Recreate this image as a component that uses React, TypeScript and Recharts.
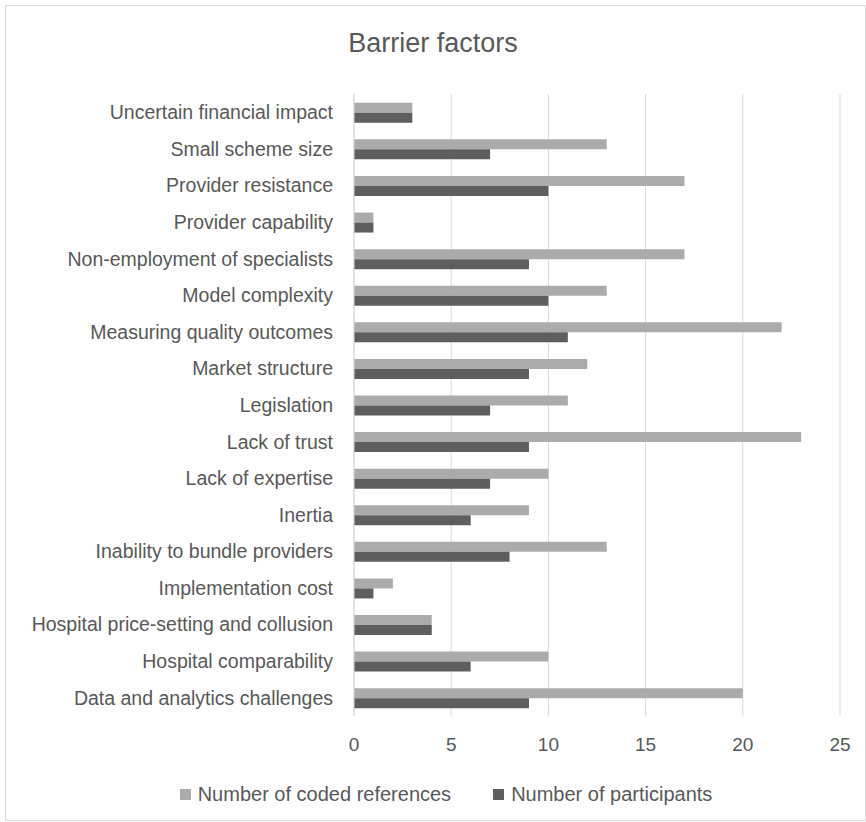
import { BarChart, Bar, XAxis, YAxis, CartesianGrid, Legend } from 'recharts'

const categories = [
  'Uncertain financial impact',
  'Small scheme size',
  'Provider resistance',
  'Provider capability',
  'Non-employment of specialists',
  'Model complexity',
  'Measuring quality outcomes',
  'Market structure',
  'Legislation',
  'Lack of trust',
  'Lack of expertise',
  'Inertia',
  'Inability to bundle providers',
  'Implementation cost',
  'Hospital price-setting and collusion',
  'Hospital comparability',
  'Data and analytics challenges',
]
const codedReferences = [3, 13, 17, 1, 17, 13, 22, 12, 11, 23, 10, 9, 13, 2, 4, 10, 20]
const participants = [3, 7, 10, 1, 9, 10, 11, 9, 7, 9, 7, 6, 8, 1, 4, 6, 9]
const xTicks = [0, 5, 10, 15, 20, 25]

const FONT = '"Liberation Sans", Arial, sans-serif'
const TEXT = '#595959'
const LIGHT = '#ABABAB'
const DARK = '#5E5E5E'

const data = categories.map((name, i) => ({
  name,
  coded: codedReferences[i],
  participants: participants[i],
}))

function LegendContent(props: any) {
  const items = props.payload || []
  return (
    <div style={{
      display: 'flex', justifyContent: 'center', gap: 42, paddingLeft: 52,
      fontFamily: FONT, fontSize: 20, color: TEXT,
    }}>
      {items.map((p: any, i: number) => (
        <div key={i} style={{ display: 'flex', alignItems: 'center' }}>
          <span style={{ width: 11, height: 11, background: p.color, display: 'inline-block', marginRight: 7 }} />
          {p.value}
        </div>
      ))}
    </div>
  )
}

export default function App() {
  return (
    <div style={{ position: 'absolute', left: 0, top: 0, width: 866, height: 822, background: '#fff' }}>
      <div style={{ position: 'absolute', left: 5, top: 5, width: 859, height: 814, border: '1px solid #D9D9D9' }} />
      <div style={{
        position: 'absolute', left: 0, width: 866, top: 28, textAlign: 'center',
        fontFamily: FONT, fontSize: 27, color: TEXT,
      }}>
        Barrier factors
      </div>
      <div style={{ position: 'absolute', left: 0, top: 0 }}>
        <BarChart
          width={866}
          height={822}
          data={data}
          layout="vertical"
          margin={{ top: 94, right: 26, bottom: 53, left: 0 }}
          barCategoryGap="24%"
          barGap={0}
        >
          <CartesianGrid horizontal={false} stroke="#D9D9D9" />
          <XAxis
            type="number"
            domain={[0, 25]}
            ticks={xTicks}
            axisLine={false}
            tickLine={false}
            tickSize={0}
            tickMargin={22}
            height={30}
            tick={{ fill: TEXT, fontSize: 19, fontFamily: FONT }}
          />
          <YAxis
            type="category"
            dataKey="name"
            width={354}
            interval={0}
            tickLine={false}
            tickSize={0}
            tickMargin={21}
            axisLine={{ stroke: '#D9D9D9' }}
            tick={{ fill: TEXT, fontSize: 19.5, fontFamily: FONT }}
          />
          <Legend content={LegendContent} verticalAlign="bottom" wrapperStyle={{ top: 783 }} />
          <Bar dataKey="coded" name="Number of coded references" fill={LIGHT} isAnimationActive={false} />
          <Bar dataKey="participants" name="Number of participants" fill={DARK} isAnimationActive={false} />
        </BarChart>
      </div>
    </div>
  )
}
